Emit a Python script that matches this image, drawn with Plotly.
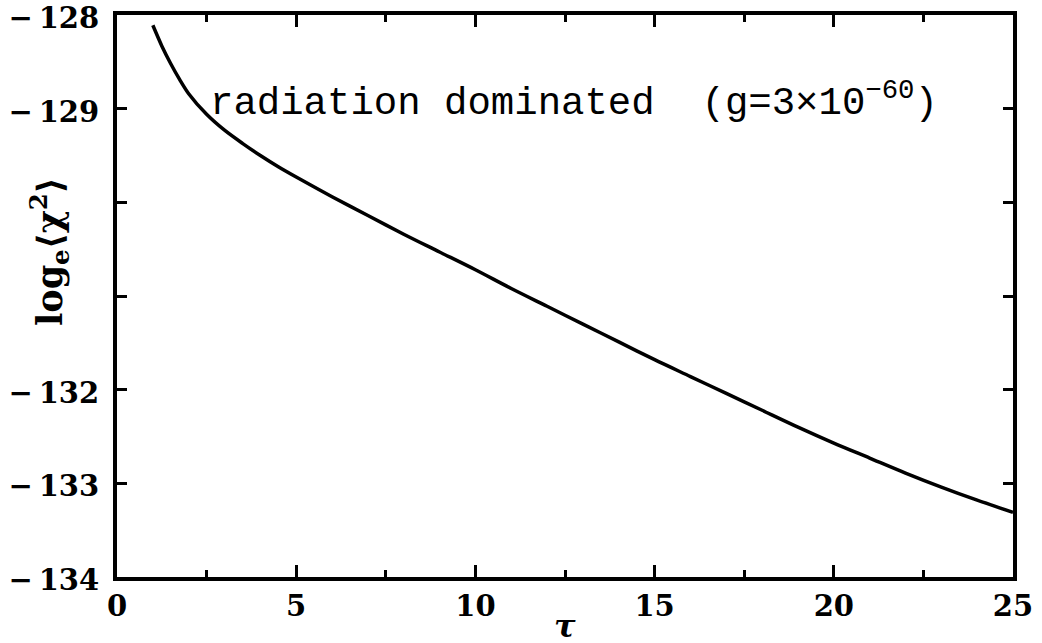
import plotly.graph_objects as go

# curve
tau = [1.0, 1.25, 1.5, 1.75, 2.0, 2.5, 3.0, 3.5, 4.0, 4.5, 5.0, 6.0, 7.0, 8.0,
       9.0, 10.0, 11.0, 12.0, 13.0, 14.0, 15.0, 16.0, 17.0, 18.0, 19.0, 20.0,
       21.0, 22.0, 23.0, 24.0, 25.0]
log_chi2 = [-128.11, -128.33, -128.52, -128.69, -128.84, -129.06, -129.23,
            -129.37, -129.50, -129.62, -129.73, -129.94, -130.14, -130.34,
            -130.53, -130.72, -130.92, -131.11, -131.30, -131.49, -131.68,
            -131.86, -132.04, -132.22, -132.40, -132.57, -132.73, -132.89,
            -133.04, -133.18, -133.31]

x_ticks = [0, 5, 10, 15, 20, 25]
y_ticks = [-134, -133, -132, -131, -130, -129, -128]
y_ticktext = ["−\u2009134", "−\u2009133", "−\u2009132", "", "",
              "−\u2009129", "−\u2009128"]

label_font = dict(family="DejaVu Serif", size=29, color="black", weight="bold")

fig = go.Figure()

# curve
fig.add_trace(go.Scatter(
    x=tau, y=log_chi2, mode="lines",
    line=dict(color="black", width=3.5, shape="spline", smoothing=0.8),
    showlegend=False, hoverinfo="skip"
))

# axes: box frame, inside ticks
fig.update_xaxes(
    range=[0, 25], tickvals=x_ticks, ticks="inside", ticklen=12, tickwidth=3,
    tickcolor="black", minor=dict(dtick=2.5, ticks="inside", ticklen=7,
                                  tickwidth=3, tickcolor="black"),
    showline=True, linewidth=4, linecolor="black", mirror="ticks",
    showgrid=False, zeroline=False, tickfont=label_font, automargin=False,
    ticklabeloverflow="allow"
)
fig.update_yaxes(
    range=[-134, -128], tickvals=y_ticks, ticktext=y_ticktext,
    ticks="inside", ticklen=10, tickwidth=3, tickcolor="black",
    showline=True, linewidth=4, linecolor="black", mirror="ticks",
    showgrid=False, zeroline=False, tickfont=label_font, ticklabelstandoff=8,
    ticklabelshift=3, automargin=False, ticklabeloverflow="allow"
)

# label inside the plot
fig.add_annotation(
    x=2.55, y=-128.91, xref="x", yref="y", xanchor="left", yanchor="middle",
    text="radiation dominated  (g=3×10<sup>−60</sup>)", showarrow=False,
    font=dict(family="Liberation Mono", size=39, color="black")
)

# axis titles
fig.add_annotation(
    x=0, y=0.5, xref="paper", yref="paper", xanchor="center",
    yanchor="middle", xshift=-68, yshift=44, textangle=-90,
    text="log<sub>e</sub>⟨χ<sup>2</sup>⟩", showarrow=False,
    font=dict(family="DejaVu Serif", size=35, color="black", weight="bold")
)
fig.add_annotation(
    x=0.5, y=0, xref="paper", yref="paper", xanchor="center", yanchor="top",
    yshift=-28, text="<i>τ</i>", showarrow=False,
    font=dict(family="DejaVu Serif", size=32, color="black", weight="bold")
)

fig.update_layout(
    width=1042, height=643,
    margin=dict(l=117, r=29, t=15, b=66),
    paper_bgcolor="white", plot_bgcolor="white"
)

# drop the default page margin so the figure fills the window
fig.write_html("out.html", config={"displayModeBar": False},
               post_script="document.body.style.margin='0';"
                           "document.body.style.overflow='hidden';")
